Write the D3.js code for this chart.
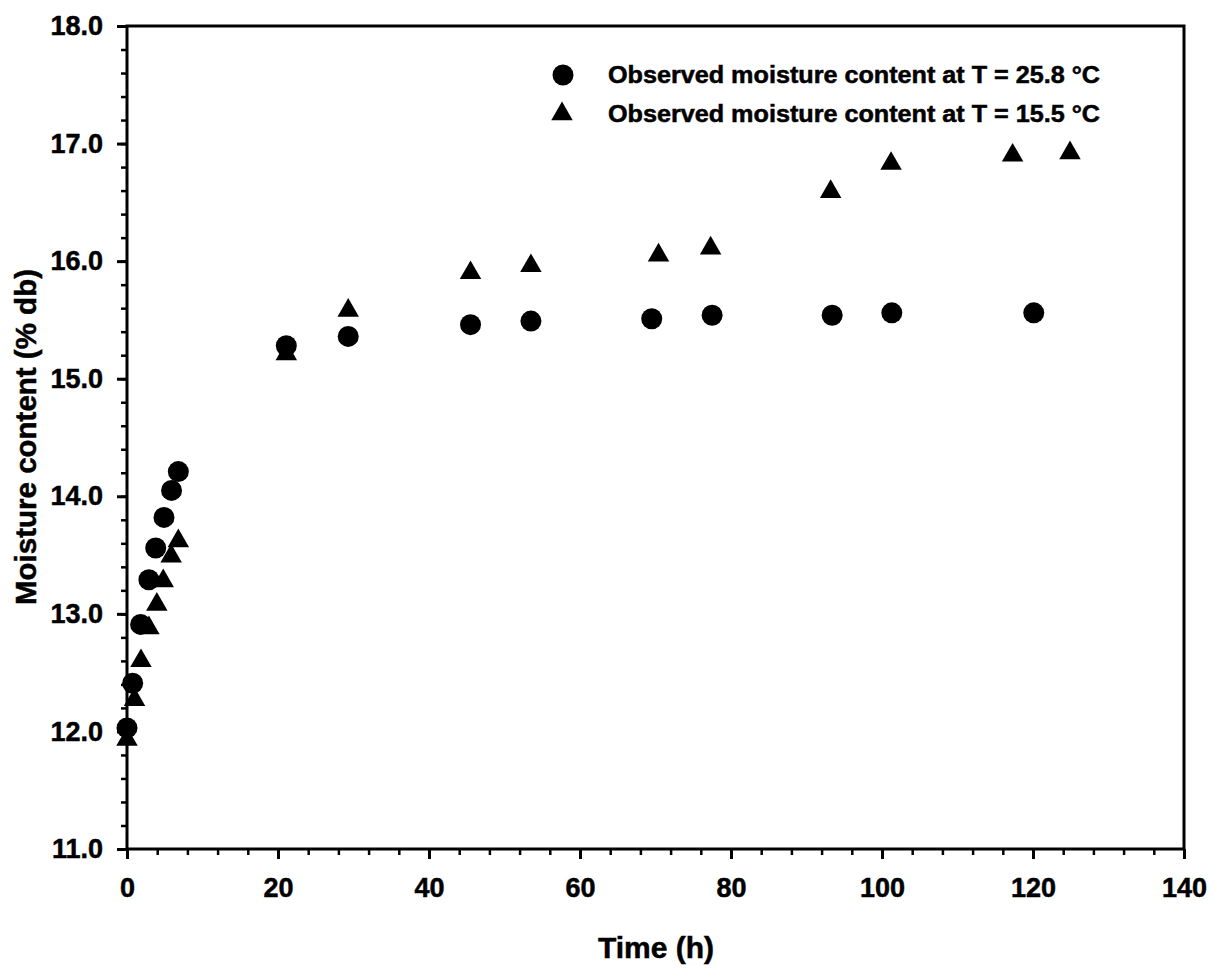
<!DOCTYPE html>
<html>
<head>
<meta charset="utf-8">
<script src="https://cdn.jsdelivr.net/npm/d3@7"></script>
<style>
  body { margin: 0; background: #fff; }
  svg { display: block; }
  text { font-family: "Liberation Sans", Arial, sans-serif; font-weight: bold; fill: #000; stroke: #000; stroke-width: 0.5px; }
</style>
</head>
<body>
<svg id="chart" width="1218" height="971"></svg>
<script>
// Series 1: Observed moisture content at T = 25.8 °C (circles)
const timeWarm = [0, 0.75, 1.8, 2.9, 3.8, 4.9, 5.9, 6.8, 21.1, 29.3, 45.5, 53.5, 69.5, 77.5, 93.4, 101.3, 120.1];
const mcWarm   = [12.03, 12.41, 12.91, 13.29, 13.56, 13.82, 14.05, 14.21, 15.28, 15.36, 15.46, 15.49, 15.51, 15.54, 15.54, 15.56, 15.56];
// Series 2: Observed moisture content at T = 15.5 °C (triangles)
const timeCool = [0, 1.0, 1.85, 2.9, 3.95, 4.8, 5.85, 6.8, 21.1, 29.3, 45.5, 53.5, 70.4, 77.3, 93.2, 101.2, 117.3, 124.9];
const mcCool   = [11.93, 12.27, 12.60, 12.88, 13.08, 13.28, 13.49, 13.62, 15.21, 15.58, 15.90, 15.96, 16.05, 16.11, 16.59, 16.83, 16.90, 16.92];

const xTicks = [0, 20, 40, 60, 80, 100, 120, 140];
const yTicks = [11, 12, 13, 14, 15, 16, 17, 18];
const seriesLabels = ["Observed moisture content at T = 25.8 \u00B0C", "Observed moisture content at T = 15.5 \u00B0C"];
const xTitle = "Time (h)";
const yTitle = "Moisture content (% db)";

const svg = d3.select("#chart");
const L = 127, R = 1184, T = 26, B = 849;

const x = d3.scaleLinear().domain([0, 140]).range([L, R]);
const y = d3.scaleLinear().domain([11, 18]).range([B, T]);

// minor ticks
svg.append("g").attr("transform", `translate(0,${B})`)
  .call(d3.axisBottom(x).tickValues(d3.range(0, 141, 4)).tickSize(6).tickFormat(""))
  .call(g => g.select(".domain").remove())
  .call(g => g.selectAll("line").attr("stroke", "#000").attr("stroke-width", 2.5));
svg.append("g").attr("transform", `translate(${L},0)`)
  .call(d3.axisLeft(y).tickValues(d3.range(0, 36).map(i => 11 + i * 0.2)).tickSize(6).tickFormat(""))
  .call(g => g.select(".domain").remove())
  .call(g => g.selectAll("line").attr("stroke", "#000").attr("stroke-width", 2.5));

// major axes
const xAxis = svg.append("g").attr("transform", `translate(0,${B})`)
  .call(d3.axisBottom(x).tickValues(xTicks).tickSize(10).tickPadding(19).tickFormat(d3.format("d")));
const yAxis = svg.append("g").attr("transform", `translate(${L},0)`)
  .call(d3.axisLeft(y).tickValues(yTicks).tickSize(10).tickPadding(14).tickFormat(d3.format(".1f")));
[xAxis, yAxis].forEach(g => {
  g.select(".domain").remove();
  g.selectAll("line").attr("stroke", "#000").attr("stroke-width", 3);
  g.selectAll("text").attr("font-size", 27).attr("font-family", "Liberation Sans, Arial, sans-serif")
    .attr("font-weight", "bold").attr("fill", "#000").attr("stroke", "#000").attr("stroke-width", 0.5);
});

// frame
svg.append("rect").attr("x", L).attr("y", T).attr("width", R - L).attr("height", B - T)
  .attr("fill", "none").attr("stroke", "#000").attr("stroke-width", 3);

// data: triangles first, circles on top
const tri = d3.symbol().type(d3.symbolTriangle).size(200);
svg.append("g").selectAll("path").data(timeCool.map((t, i) => [t, mcCool[i]]))
  .join("path").attr("d", tri)
  .attr("transform", d => `translate(${x(d[0])},${y(d[1])})`).attr("fill", "#000");
svg.append("g").selectAll("circle").data(timeWarm.map((t, i) => [t, mcWarm[i]]))
  .join("circle").attr("cx", d => x(d[0])).attr("cy", d => y(d[1])).attr("r", 10.5).attr("fill", "#000");

// legend
const lg = svg.append("g");
lg.append("circle").attr("cx", 563).attr("cy", 75).attr("r", 10.5).attr("fill", "#000");
lg.append("path").attr("d", tri).attr("transform", "translate(562,114)").attr("fill", "#000");
seriesLabels.forEach((s, i) => {
  lg.append("text").attr("x", 608).attr("y", 83 + i * 39).attr("font-size", 23)
    .attr("textLength", 492).attr("lengthAdjust", "spacingAndGlyphs").text(s);
});

// titles
svg.append("text").attr("x", 656).attr("y", 958).attr("text-anchor", "middle").attr("font-size", 30).text(xTitle);
svg.append("text").attr("transform", "translate(36,437) rotate(-90)").attr("text-anchor", "middle").attr("font-size", 29.5).text(yTitle);
</script>
</body>
</html>
